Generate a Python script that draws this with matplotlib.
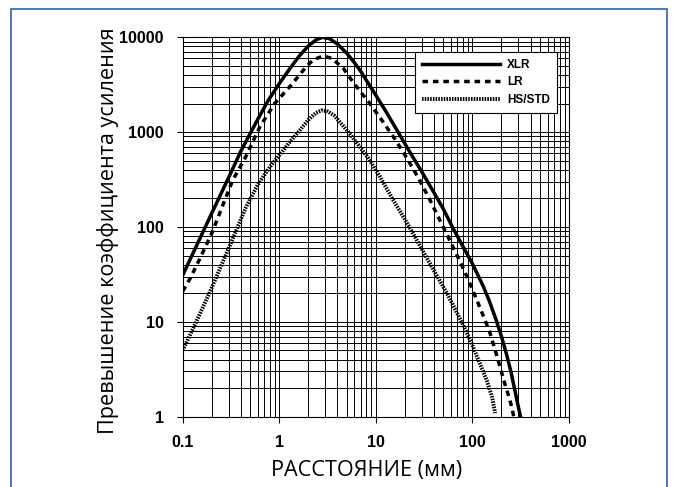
import matplotlib
matplotlib.use('Agg')
import matplotlib.pyplot as plt
from matplotlib.patches import Rectangle
from matplotlib.ticker import FixedLocator, FixedFormatter, LogLocator, NullFormatter

TICK_FONT = ['Liberation Sans', 'DejaVu Sans']
LABEL_FONT = ['Open Sans', 'DejaVu Sans']

# кривые превышения усиления (расстояние, мм -> коэффициент)
xlr_x = [0.1, 0.15, 0.2, 0.3, 0.4, 0.5, 0.6, 0.77, 1, 1.3, 1.6, 2, 2.4, 2.8, 3.3, 4, 5,
         6, 7, 8, 10, 13, 17, 22, 30, 40, 50, 62, 80, 100, 130, 150, 177, 200, 225,
         250, 275, 300, 315]
xlr_y = [31, 75, 140, 335, 630, 970, 1370, 2170, 3250, 4750, 6300, 8100, 9400, 10000,
         9700, 8500, 6800, 5400, 4350, 3500, 2450, 1590, 1000, 640, 380, 230, 155, 100,
         62, 41, 23.5, 16.5, 10.3, 7, 4.6, 3, 1.9, 1.25, 1]

lr_x = [0.1, 0.12, 0.15, 0.2, 0.33, 0.45, 0.63, 0.9, 1.33, 1.9, 2.25, 2.85, 3.5, 4.6,
        5.6, 6.9, 8.4, 11.5, 16, 21, 28, 36.6, 46, 60, 81, 100, 120, 150, 180, 220,
        240, 256, 268]
lr_y = [21, 29, 46, 86, 313, 551, 1141, 2014, 3140, 4900, 5800, 6350, 6000, 4710,
        3550, 2670, 2095, 1342, 826, 530, 320, 190, 118, 68, 36, 22, 14, 8, 4.3,
        2.1, 1.6, 1.25, 1]

hs_x = [0.1, 0.15, 0.2, 0.3, 0.45, 0.6, 0.8, 1, 1.3, 1.65, 2, 2.4, 2.75, 3.2, 3.7, 5,
        6.6, 8.4, 11, 15, 22, 29, 35, 54.5, 75, 95, 120, 141, 160, 172]
hs_y = [5, 12, 23, 60, 160, 280, 430, 570, 800, 1060, 1350, 1600, 1700, 1650, 1500,
        1050, 730, 530, 340, 195, 102, 62, 44, 20, 10.6, 6.4, 3.6, 2.4, 1.6, 1.09]

x_ticks = [0.1, 1, 10, 100, 1000]
x_labels = ['0.1', '1', '10', '100', '1000']
y_ticks = [1, 10, 100, 1000, 10000]
y_labels = ['1', '10', '100', '1000', '10000']

fig = plt.figure(figsize=(6.78, 4.87), dpi=100)
ax = fig.add_axes([0.2695, 0.1444, 0.5697, 0.779])

# синяя рамка вокруг рисунка (низ обрезан)
fig.patches.append(Rectangle((10.7 / 678, -0.05), (667 - 10.7) / 678, 1.05 - 9 / 487,
                             transform=fig.transFigure, fill=False,
                             edgecolor='#3d6eae', linewidth=1.3))

ax.plot(xlr_x, xlr_y, color='black', linewidth=2.5, solid_joinstyle='round', label='XLR')
ax.plot(lr_x, lr_y, color='black', linewidth=2.5, dashes=(1.6, 1.4), label='LR')
ax.plot(hs_x, hs_y, color='black', linewidth=2.8, dashes=(0.4, 0.3), label='HS/STD')

ax.set_xscale('log')
ax.set_yscale('log')
ax.set_xlim(0.1, 1000)
ax.set_ylim(1, 10000)

ax.xaxis.set_major_locator(FixedLocator(x_ticks))
ax.xaxis.set_major_formatter(FixedFormatter(x_labels))
ax.yaxis.set_major_locator(FixedLocator(y_ticks))
ax.yaxis.set_major_formatter(FixedFormatter(y_labels))
ax.xaxis.set_minor_locator(LogLocator(base=10, subs=range(2, 10), numticks=20))
ax.yaxis.set_minor_locator(LogLocator(base=10, subs=range(2, 10), numticks=20))
ax.xaxis.set_minor_formatter(NullFormatter())
ax.yaxis.set_minor_formatter(NullFormatter())

ax.grid(True, which='both', color='black', linewidth=0.7)
ax.set_axisbelow(True)
ax.tick_params(which='major', direction='out', length=4.5, width=0.8, pad=9, labelsize=11.5)
ax.tick_params(which='minor', length=0)
for lab in ax.get_xticklabels() + ax.get_yticklabels():
    lab.set_family(TICK_FONT)
    lab.set_fontweight('bold')
for sp in ax.spines.values():
    sp.set_linewidth(0.8)

ax.set_xlabel('РАССТОЯНИЕ (мм)', family=LABEL_FONT, fontsize=15.6, labelpad=7)
ax.xaxis.label.set_x(0.476)
ax.set_ylabel('Превышение коэффициента усиления', family=LABEL_FONT, fontsize=15.6)
ax.yaxis.set_label_coords(-0.165, 0.49)

leg = ax.legend(loc='upper right', bbox_to_anchor=(0.969, 0.961), borderaxespad=0,
                fancybox=False, framealpha=1, edgecolor='black', handlelength=6.6,
                labelspacing=0.45, handletextpad=0.6, borderpad=0.6,
                prop={'family': TICK_FONT, 'weight': 'bold', 'size': 8.5})
leg.get_frame().set_linewidth(0.8)

fig.savefig('out.png', dpi=100)
